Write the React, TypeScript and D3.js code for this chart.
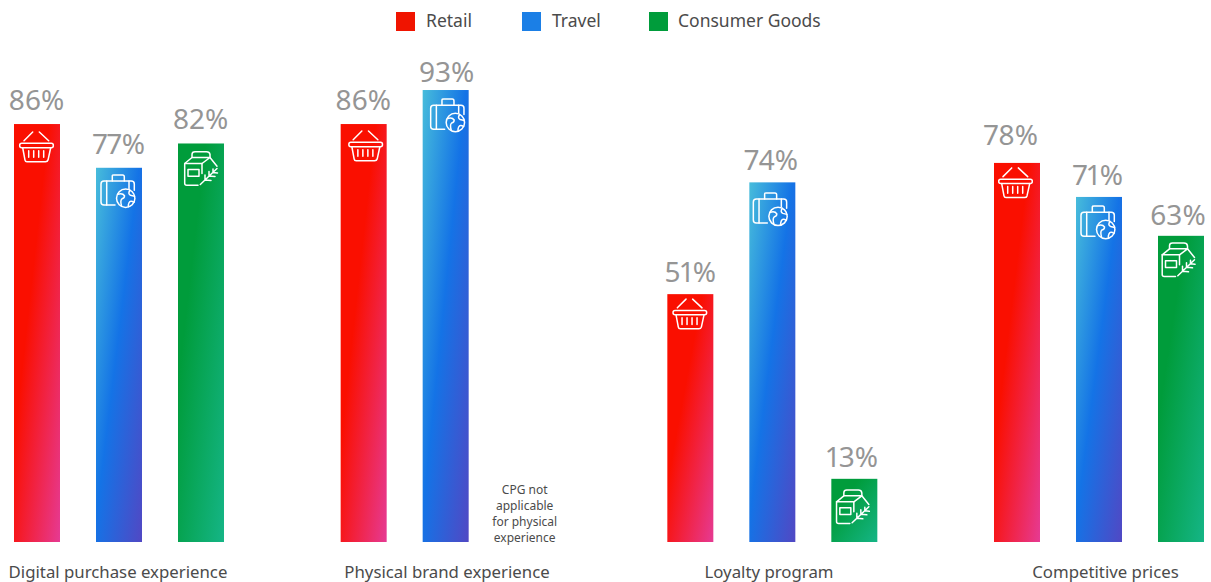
import React from "react";
import * as d3 from "d3";

const categories = ["Digital purchase experience", "Physical brand experience", "Loyalty program", "Competitive prices"];
const seriesNames = ["Retail", "Travel", "Consumer Goods"];
const retailValues = [86, 86, 51, 78];
const travelValues = [77, 93, 74, 71];
const consumerValues: (number | null)[] = [82, null, 13, 63];
const legendColors = ["#f01400", "#1b7fe6", "#009c3b"];
const absentNote = ["CPG not", "applicable", "for physical", "experience"];

const WIDTH = 1211;
const HEIGHT = 582;
const BASELINE = 542;
const FONT = "'Noto Sans', sans-serif";

const seriesValues = [retailValues, travelValues, consumerValues];
const legendX = [396, 522, 649];
const categoryLabelX = [118, 447, 769, 1105.5];

// Hand-placed offsets of value labels and icons, by series then category.
const labelNudge = [
  [[-0.5, 0], [-0.5, 0], [0, 1.5], [-6, -4]],
  [[0, 0.5], [1, 6], [-1, 1.5], [-1, 2.5]],
  [[-0.5, 0], [0, 0], [-2, 2], [-3, 3.5]],
];
const iconNudge = [
  [[0, 0], [2.5, -1], [0, -3], [-1, -3]],
  [[0, 0.5], [3, 2.5], [-1, 4], [0, 2.5]],
  [[0, 0], [0, 0], [-1.5, 3], [-2.5, -1]],
];

const y = d3.scaleLinear().domain([0, 100]).range([BASELINE, 56]);
const groupX = d3.scalePoint<string>().domain(categories).range([14, 994]);
const barX = d3.scaleBand<string>().domain(seriesNames).range([0, 210]).paddingInner(36 / 82);

const ICON_STROKE = { fill: "none", stroke: "#fff", strokeWidth: 1.5, strokeLinecap: "round" as const, strokeLinejoin: "round" as const };

function Basket() {
  return (
    <g {...ICON_STROKE}>
      <path d="M10 16.7 L18.7 8 M25.3 8 L34.7 16.7" />
      <rect x={5.7} y={19.3} width={33.6} height={4.4} rx={2} />
      <path d="M8.7 23.7 L11 36 Q11.3 37.7 13 37.7 H31.5 Q33.5 37.7 34 36 L36.7 23.7" />
      <path d="M14.7 26.7 V33.3 M19.7 26.7 V33.3 M24.7 26.7 V33.3 M29.7 26.7 V33.3" />
    </g>
  );
}

function Suitcase() {
  return (
    <g {...ICON_STROKE}>
      <path d="M19 36.7 H8 Q5 36.7 5 33.7 V15.7 Q5 12.7 8 12.7 H35.3 Q38.3 12.7 38.3 15.7 V22" />
      <path d="M10.7 12.7 V36.7 M16.3 12.7 V7.3 Q16.3 6.6 18 6.6 H26.6 Q28.3 6.6 28.3 8.5 V12.7 M33 12.7 V20.5" />
      <circle cx={29.7} cy={30} r={9.2} />
      <path d="M22 26 Q26.5 24.5 28.5 27.5 Q28.5 30 26 30.5 Q24 32 25.5 37.5 M34 22 Q31.5 25.5 34.5 27 L38.6 28 M38 34 Q34.5 31.5 33 34.5 Q32 36.5 32.5 38.5" />
    </g>
  );
}

function Carton() {
  return (
    <g {...ICON_STROKE}>
      <path d="M24 30 V20 H6.7 V39.7 Q6.7 41.7 8.7 41.7 H20" />
      <path d="M6.7 20 L14 14 H32 L39 22.7 M24 20 L32 14" />
      <path d="M14 14 V11 Q14 8.3 17 8.3 H28.5 Q31.5 8.3 32 11 V14" />
      <rect x={10} y={26} width={11} height={6.7} />
      <path d="M22.3 41 L39 25 M27 36.5 L27 31.5 M27 36.5 L33 37 M31 32.5 L31 28 M31 32.5 L37 33 M35 29 L35 25.5 M35 29 L39.5 29.5" />
    </g>
  );
}

const icons = [Basket, Suitcase, Carton];

export default function App() {
  return (
    <svg
      width={WIDTH}
      height={HEIGHT}
      viewBox={`0 0 ${WIDTH} ${HEIGHT}`}
      style={{ position: "absolute", left: 0, top: 0, display: "block", background: "#fff" }}
      fontFamily={FONT}
    >
      <defs>
        <linearGradient id="grad-0" x1="0" y1="0" x2="1" y2="1">
          <stop offset="0" stopColor="#fa0f00" />
          <stop offset="0.38" stopColor="#fa0f00" />
          <stop offset="1" stopColor="#e63a93" />
        </linearGradient>
        <linearGradient id="grad-1" x1="0" y1="0" x2="1" y2="1">
          <stop offset="0" stopColor="#47bcdb" />
          <stop offset="0.47" stopColor="#1473e6" />
          <stop offset="1" stopColor="#5148c4" />
        </linearGradient>
        <linearGradient id="grad-2" x1="0" y1="0" x2="1" y2="1">
          <stop offset="0" stopColor="#009c3b" />
          <stop offset="0.3" stopColor="#009c3b" />
          <stop offset="1" stopColor="#15b586" />
        </linearGradient>
      </defs>

      {seriesNames.map((name, i) => (
        <g key={name}>
          <rect x={legendX[i]} y={12} width={19} height={19} fill={legendColors[i]} />
          <text x={legendX[i] + (i === 2 ? 29 : 30)} y={26.5} fontSize={17.5} fill="#4b4b4b">{name}</text>
        </g>
      ))}

      {categories.map((cat, c) => (
        <g key={cat}>
          {seriesNames.map((name, s) => {
            const value = seriesValues[s][c];
            const x = (groupX(cat) as number) + (barX(name) as number);
            const w = barX.bandwidth();
            if (value === null) {
              return (
                <text key={name} textAnchor="middle" fontSize={12} fill="#4b4b4b">
                  {absentNote.map((line, l) => (
                    <tspan key={line} x={x + w / 2 - 3} y={BASELINE - 48 + l * 16}>{line}</tspan>
                  ))}
                </text>
              );
            }
            const Icon = icons[s];
            const top = y(value);
            const [lx, ly] = labelNudge[s][c];
            const [ix, iy] = iconNudge[s][c];
            return (
              <g key={name}>
                <rect x={x} y={top} width={w} height={BASELINE - top} fill={`url(#grad-${s})`} />
                <g transform={`translate(${x + ix},${top + iy})`}><Icon /></g>
                <text
                  x={x + w / 2 + lx}
                  y={top - 14 + ly}
                  textAnchor="middle"
                  fontSize={28}
                  fill="#959595"
                  style={{ fontVariantNumeric: "proportional-nums" }}
                >{`${value}%`}</text>
              </g>
            );
          })}
          <text x={categoryLabelX[c]} y={578} textAnchor="middle" fontSize={16.8} fill="#4b4b4b">{cat}</text>
        </g>
      ))}
    </svg>
  );
}
